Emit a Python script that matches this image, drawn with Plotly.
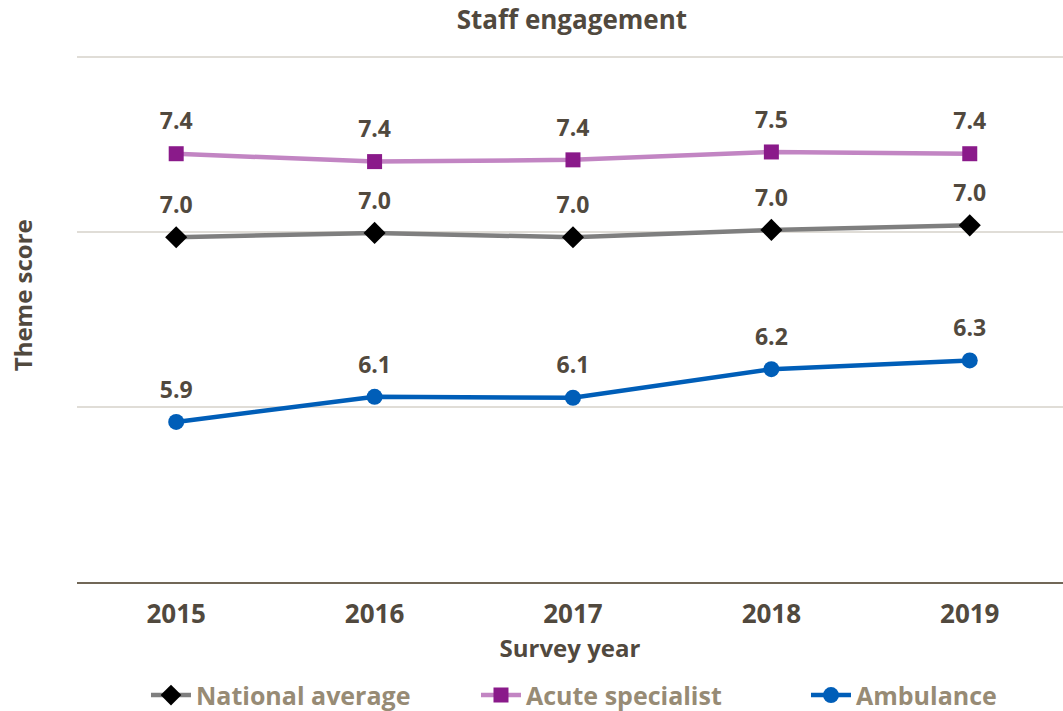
import plotly.graph_objects as go

# Survey years and theme scores per group
years = ["2015", "2016", "2017", "2018", "2019"]
national_average = [6.968, 6.993, 6.968, 7.01, 7.036]
acute_specialist = [7.445, 7.40, 7.41, 7.455, 7.445]
ambulance = [5.914, 6.057, 6.052, 6.215, 6.265]

TEXT_DARK = "#51493e"
LEGEND_TEXT = "#978b75"
FONT = "Open Sans"

series = [
    ("National average", national_average, "#7f7f7f", "#000000", "diamond", 17),
    ("Acute specialist", acute_specialist, "#c285c3", "#8a1a8a", "square", 15),
    ("Ambulance", ambulance, "#005eb8", "#005eb8", "circle", 16),
]

fig = go.Figure()
for name, vals, line_col, mk_col, sym, size in series:
    fig.add_trace(go.Scatter(
        x=years, y=vals, name=name, mode="lines+markers",
        line=dict(color=line_col, width=4.5),
        marker=dict(color=mk_col, symbol=sym, size=size, line=dict(width=0)),
        cliponaxis=False,
    ))

# value labels sit above each point
for name, vals, *_ in series:
    fig.add_trace(go.Scatter(
        x=years, y=vals, mode="markers+text", showlegend=False, hoverinfo="skip",
        marker=dict(size=28, opacity=0),
        text=[f"{v:.1f}" for v in vals],
        textposition="top center",
        textfont=dict(family=FONT, size=23, color=TEXT_DARK, weight="bold"),
        cliponaxis=False,
    ))

fig.update_layout(
    width=1063, height=711,
    margin=dict(l=77, r=0, t=53, b=129),
    paper_bgcolor="white", plot_bgcolor="white",
    font=dict(family=FONT, color=TEXT_DARK),
    title=dict(text="<b>Staff engagement</b>", x=0.538, xanchor="center",
               y=0.972, yanchor="middle",
               font=dict(family=FONT, size=26, color=TEXT_DARK)),
    xaxis=dict(
        type="category", range=[-0.5, 4.47],
        showgrid=False, ticks="", showline=True, linecolor="#716757", linewidth=2,
        ticklabelstandoff=8,
        tickfont=dict(family=FONT, size=26, color=TEXT_DARK, weight="bold"),
        title=dict(text="<b>Survey year</b>", standoff=0,
                   font=dict(family=FONT, size=24, color=TEXT_DARK)),
    ),
    yaxis=dict(
        range=[5, 8.02], tickvals=[6, 7, 8], showticklabels=False, ticks="",
        showgrid=True, gridcolor="#e0ddd7", gridwidth=1.5, zeroline=False,
    ),
    annotations=[dict(
        text="<b>Theme score</b>", textangle=-90, showarrow=False,
        xref="paper", yref="paper", x=-0.0558, y=0.542,
        xanchor="center", yanchor="middle",
        font=dict(family=FONT, size=24, color=TEXT_DARK),
    )],
    legend=dict(
        orientation="h", xref="container", x=0.603, xanchor="center",
        yref="container", y=0.022, yanchor="middle",
        font=dict(family=FONT, size=25, color=LEGEND_TEXT, weight="bold"),
        itemwidth=40, entrywidth=275,
    ),
    showlegend=True,
)

fig.write_html("out.html")
